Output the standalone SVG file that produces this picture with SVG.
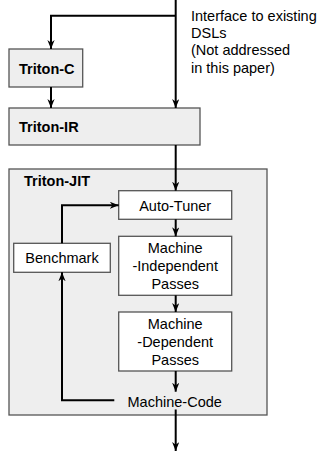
<svg xmlns="http://www.w3.org/2000/svg" width="320" height="453" viewBox="0 0 320 453">
<style>
.gbox{fill:#eeeeee;stroke:#555555;stroke-width:1.3}
.wbox{fill:#ffffff;stroke:#555555;stroke-width:1.3}
.t{font-family:"Liberation Sans",Arial,sans-serif;font-size:14.5px;fill:#000}
.b{font-weight:bold}
.m{text-anchor:middle}
.c{fill:none;stroke:#000;stroke-width:2;marker-end:url(#ah)}
.cn{fill:none;stroke:#000;stroke-width:2}
</style>
<defs>
<marker id="ah" viewBox="0 0 10 8" refX="10" refY="4" markerWidth="9" markerHeight="7.5" markerUnits="userSpaceOnUse" orient="auto">
<path d="M0,0 L10,4 L0,8 L3,4 z" fill="#000"/>
</marker>
</defs>
<rect width="320" height="453" fill="#ffffff"/>
<g id="triton-jit">
<rect class="gbox" x="9" y="169" width="258" height="246"/>
<text class="t b" x="24" y="185.7">Triton-JIT</text>
</g>
<g id="triton-c">
<rect class="gbox" x="9" y="49" width="73.7" height="38"/>
<text class="t b" x="19" y="74">Triton-C</text>
</g>
<g id="triton-ir">
<rect class="gbox" x="9" y="108" width="191" height="37"/>
<text class="t b" x="19" y="131.7">Triton-IR</text>
</g>
<g id="dsl-note">
<text class="t" x="191" y="20.7">Interface to existing</text>
<text class="t" x="191" y="38">DSLs</text>
<text class="t" x="191" y="55.3">(Not addressed</text>
<text class="t" x="191" y="72.7">in this paper)</text>
</g>
<g id="auto-tuner">
<rect class="wbox" x="118.7" y="190.7" width="113" height="28.6"/>
<text class="t m" x="175.2" y="211">Auto-Tuner</text>
</g>
<g id="mi-passes">
<rect class="wbox" x="118.7" y="236.3" width="113" height="59"/>
<text class="t m" x="175.2" y="253.3">Machine</text>
<text class="t m" x="175.2" y="271">-Independent</text>
<text class="t m" x="175.2" y="288.7">Passes</text>
</g>
<g id="md-passes">
<rect class="wbox" x="118.7" y="312" width="113" height="59"/>
<text class="t m" x="175.2" y="329">Machine</text>
<text class="t m" x="175.2" y="347">-Dependent</text>
<text class="t m" x="175.2" y="364.7">Passes</text>
</g>
<g id="benchmark">
<rect class="wbox" x="13.7" y="243.3" width="96.6" height="29"/>
<text class="t m" x="62" y="263.3">Benchmark</text>
</g>
<g id="machine-code">
<text class="t m" x="174.7" y="407.3">Machine-Code</text>
</g>
<g id="connectors">
<path class="c" d="M175.7,0 V108"/>
<path class="c" d="M175.7,15.7 H51 V49"/>
<path class="c" d="M51,87 V108"/>
<path class="c" d="M175.7,145 V190.7"/>
<path class="c" d="M175.7,219.3 V236.3"/>
<path class="c" d="M175.7,295.3 V312"/>
<path class="c" d="M175.7,371 V391.7"/>
<path class="c" d="M114.3,400.3 H62 V272.3"/>
<path class="c" d="M62,243.3 V205.3 H118.7"/>
<path class="c" d="M175.7,409.5 V451"/>
</g>
</svg>
